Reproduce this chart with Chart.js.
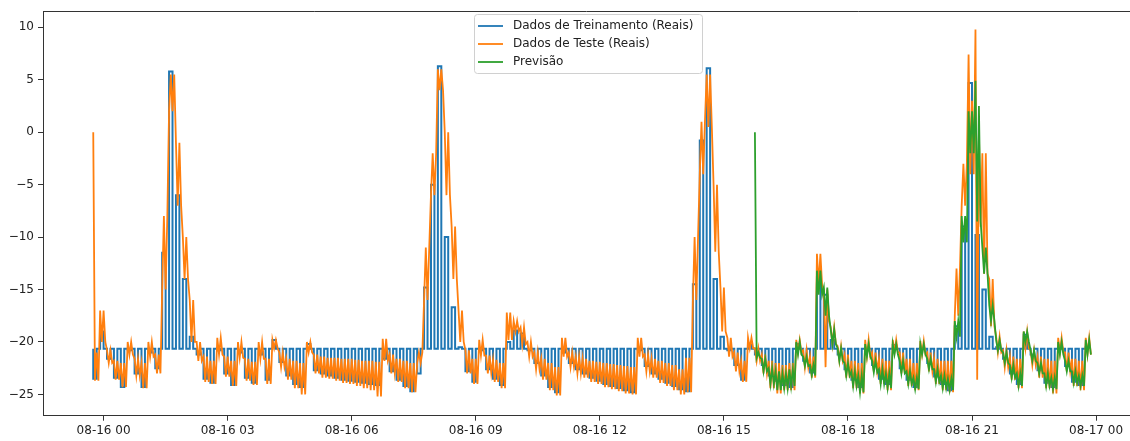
<!DOCTYPE html>
<html>
<head>
<meta charset="utf-8">
<script src="https://cdn.jsdelivr.net/npm/chart.js@4.4.1/dist/chart.umd.min.js"></script>
<style>
  html, body { margin: 0; padding: 0; background: #fff; overflow: hidden; }
  #chart { position: absolute; left: 0; top: 0; }
</style>
</head>
<body>
<canvas id="chart" width="1130" height="441"></canvas>
<script>
// time grid: hours relative to 08-16 00:00, one reading every 10 minutes
const startHour = -0.25;
const stepHours = 1 / 6;

// training data (blue) - the real values, the other half of its points sit on a fixed level
const trainBase = -20.65;
const trainValues = [
  -23.5, -19.0, -21.6, -23.4, -24.3, -20.8, -23.0, -24.3, -21.0, -22.5,
  -11.5, 5.8, -6.0, -14.0, -19.5, -21.2, -23.5, -23.9, -20.8, -23.0,
  -24.1, -21.0, -23.4, -23.9, -21.2, -23.6, -19.8, -21.9, -23.2, -24.0,
  -24.3, -20.2, -22.7, -23.0, -23.2, -23.4, -23.6, -23.7, -23.8, -23.9,
  -24.0, -24.1, -21.6, -22.8, -23.6, -24.2, -24.7, -23.0, -14.8, -5.0,
  6.3, -10.0, -16.7, -20.5, -22.8, -23.8, -20.8, -22.6, -23.5, -24.1,
  -20.0, -18.9, -19.2, -20.8, -22.0, -23.2, -24.3, -24.8, -21.0, -22.0,
  -22.6, -23.0, -23.4, -23.7, -24.0, -24.2, -24.4, -24.6, -24.8, -20.8,
  -22.3, -23.0, -23.5, -23.9, -24.2, -24.5, -24.7, -14.5, -0.8, 6.1,
  -14.0, -19.5, -20.8, -22.2, -23.6, -20.3, -21.2, -22.2, -23.2, -23.7,
  -24.1, -24.3, -20.2, -21.8, -22.9, -14.4, -15.5, -19.8, -21.2, -22.6,
  -23.6, -24.3, -20.8, -22.2, -23.5, -24.0, -20.3, -22.5, -23.6, -24.3,
  -20.6, -22.0, -23.3, -24.0, -24.6, -18.5, -9.0, 4.7, -9.8, -15.0,
  -19.5, -20.5, -21.6, -23.0, -24.0, -19.3, -21.2, -22.7, -23.9, -24.3,
  -20.5, -22.3, -23.8, -24.1, -20.5
];

// test data (orange) - upper and lower readings of each 10 minute slot
const testHigh = [
  -21.0, -17.0, -20.8, -21.8, -22.0, -20.0, -21.6, -22.0, -20.0, -21.2,
  -15.0, 2.0, -1.0, -10.0, -16.0, -20.0, -21.4, -21.8, -19.6, -21.4,
  -21.8, -20.0, -21.6, -21.9, -20.0, -21.6, -19.8, -21.0, -21.6, -21.8,
  -22.0, -20.0, -21.2, -21.4, -21.5, -21.5, -21.6, -21.6, -21.7, -21.8,
  -21.8, -21.9, -19.7, -21.2, -21.6, -21.8, -22.0, -22.0, -16.0, -6.0,
  6.0, 0.0, -9.0, -17.0, -20.8, -21.6, -19.8, -21.3, -21.7, -22.0,
  -17.2, -18.0, -18.6, -20.0, -21.0, -21.6, -22.0, -22.4, -19.6, -21.0,
  -21.4, -21.6, -21.8, -21.9, -22.0, -22.1, -22.2, -22.3, -22.4, -19.6,
  -21.2, -21.6, -21.8, -22.0, -22.2, -22.6, -21.5, -16.0, -4.0, 5.5,
  -5.0, -14.8, -19.6, -21.0, -21.8, -19.6, -20.6, -21.2, -21.8, -22.0,
  -22.2, -22.0, -19.8, -20.8, -21.4, -11.6, -15.0, -18.6, -20.4, -21.2,
  -21.8, -22.0, -19.8, -21.0, -21.6, -21.8, -19.8, -21.0, -21.6, -22.0,
  -19.9, -21.0, -21.6, -21.8, -21.8, -17.5, -7.0, 3.0, 0.0, -2.0,
  -14.0, -19.5, -20.8, -21.4, -21.6, -19.0, -20.8, -21.4, -21.6, -21.8,
  -19.6, -21.0, -21.6, -21.8, -19.6
];
const testLow = [
  -23.7, -20.0, -22.0, -23.6, -24.3, -21.2, -23.2, -24.4, -21.4, -23.0,
  -8.0, 5.5, -7.0, -14.0, -20.0, -21.8, -23.8, -24.0, -21.2, -23.3,
  -24.2, -21.5, -23.7, -24.1, -21.6, -24.0, -20.6, -22.4, -23.6, -24.4,
  -25.0, -21.0, -23.0, -23.4, -23.5, -23.7, -23.9, -24.0, -24.2, -24.4,
  -24.6, -25.2, -21.8, -23.0, -23.8, -24.4, -24.8, -21.0, -11.0, -2.0,
  4.0, -6.0, -14.0, -20.0, -23.0, -24.0, -21.3, -23.0, -23.8, -24.4,
  -19.8, -19.0, -20.2, -21.4, -22.6, -23.6, -24.6, -25.1, -21.4, -22.4,
  -23.0, -23.4, -23.8, -24.0, -24.3, -24.5, -24.7, -24.9, -25.0, -21.4,
  -22.8, -23.4, -23.9, -24.2, -24.6, -25.0, -24.8, -10.0, 1.0, 0.5,
  -11.4, -19.0, -21.4, -22.8, -23.8, -20.6, -21.8, -23.0, -24.4, -24.9,
  -24.6, -24.6, -21.0, -22.4, -23.4, -14.6, -18.0, -20.2, -21.8, -23.4,
  -24.4, -24.9, -21.4, -22.8, -24.0, -24.6, -21.0, -23.0, -24.2, -24.6,
  -21.2, -22.8, -24.0, -24.6, -24.8, -13.0, -3.0, -4.0, -9.0, -13.5,
  -18.5, -21.0, -22.4, -23.6, -24.4, -20.6, -22.2, -23.4, -24.4, -24.9,
  -21.0, -22.8, -24.2, -24.6, -21.2
];
// single isolated strokes (first stroke of the slot)
const testSpikeSlot = [0, 106, 127, 128];
const testSpikeHigh = [0.0, null, 7.4, 9.8];
const testSpikeLow = [null, -22.4, null, -23.6];

// prediction (green) - starts at slot 96 (about 15:45)
const predStartSlot = 96;
const predHigh = [
  -21.0, -21.6, -22.5, -22.8, -23.0, -22.6, -20.0, -21.4, -22.2, -13.2,
  -14.8, -18.8, -20.6, -22.0, -22.8, -23.2, -20.2, -21.8, -22.6, -23.0,
  -20.2, -21.8, -22.8, -23.4, -20.2, -21.6, -22.6, -23.2, -23.5, -18.0,
  -8.0, 2.0, 2.5, -11.0, -16.5, -19.8, -21.0, -22.2, -23.0, -19.0,
  -20.8, -22.0, -23.0, -23.4, -20.0, -21.8, -22.8, -23.2, -19.8
];
const predLow = [
  -21.5, -22.8, -24.0, -24.6, -24.4, -24.2, -21.2, -22.3, -23.2, -15.5,
  -17.5, -20.2, -21.8, -23.2, -24.2, -24.8, -21.4, -22.9, -24.0, -24.4,
  -21.2, -23.0, -24.0, -24.5, -21.2, -22.6, -23.8, -24.4, -24.6, -19.5,
  -10.5, -2.0, -8.5, -13.5, -18.0, -20.8, -22.0, -23.4, -24.2, -20.0,
  -21.8, -23.0, -24.2, -24.5, -21.2, -22.8, -23.9, -24.2, -21.2
];
const predSpikeSlot = [96, 128];
const predSpikeHigh = [0.0, 4.9];
const predSpikeLow = [null, null];

const xTickHours = [0, 3, 6, 9, 12, 15, 18, 21, 24];
const xTickLabels = ['08-16 00', '08-16 03', '08-16 06', '08-16 09', '08-16 12',
                     '08-16 15', '08-16 18', '08-16 21', '08-17 00'];
const yTickValues = [-25, -20, -15, -10, -5, 0, 5, 10];

const seriesNames = ['Dados de Treinamento (Reais)', 'Dados de Teste (Reais)', 'Previsão'];
const seriesColors = ['#1f77b4', '#ff7f0e', '#2ca02c'];

// build point lists for the library
const slotTime = i => startHour + i * stepHours;
const q = stepHours / 4;

const trainPoints = [];
trainValues.forEach((v, i) => {
    const t = slotTime(i);
    trainPoints.push({ x: t, y: trainBase }, { x: t, y: v },
                     { x: t + 2 * q, y: v }, { x: t + 2 * q, y: trainBase });
});

// each high/low pair is drawn as a zigzag across its slot;
// a spike entry replaces the first stroke of that slot
const zigzag = (highs, lows, firstSlot, spikeSlot, spikeHigh, spikeLow) => {
    const pts = [];
    highs.forEach((v, k) => {
        const slot = firstSlot + k;
        const t = slotTime(slot);
        const s = spikeSlot.indexOf(slot);
        const h1 = s >= 0 && spikeHigh[s] !== null ? spikeHigh[s] : v;
        const l1 = s >= 0 && spikeLow[s] !== null ? spikeLow[s] : lows[k];
        pts.push({ x: t, y: h1 }, { x: t + q, y: l1 },
                 { x: t + 2 * q, y: v }, { x: t + 3 * q, y: lows[k] });
    });
    return pts;
};
const testPoints = zigzag(testHigh, testLow, 0, testSpikeSlot, testSpikeHigh, testSpikeLow);
const predPoints = zigzag(predHigh, predLow, predStartSlot, predSpikeSlot, predSpikeHigh, predSpikeLow);

const FONT = 'DejaVu Sans';
const TEXT_COLOR = '#222';
const AXIS_COLOR = '#333';

// top spine (the right one falls outside the picture)
const framePlugin = {
    id: 'frame',
    afterDraw(chart) {
        const { ctx, chartArea: a } = chart;
        ctx.save();
        ctx.strokeStyle = AXIS_COLOR;
        ctx.lineWidth = 1;
        ctx.beginPath();
        ctx.moveTo(a.left, Math.round(a.top) + 0.5);
        ctx.lineTo(a.right, Math.round(a.top) + 0.5);
        ctx.stroke();
        ctx.restore();
    }
};

// legend box in the style of matplotlib
const legendPlugin = {
    id: 'mplLegend',
    afterDraw(chart) {
        const ctx = chart.ctx;
        const box = { x: 474, y: 14, w: 228, h: 59 };
        ctx.save();
        ctx.beginPath();
        ctx.roundRect(box.x + 0.5, box.y + 0.5, box.w, box.h, 3);
        ctx.fillStyle = 'rgba(255,255,255,0.8)';
        ctx.fill();
        ctx.strokeStyle = '#d0d0d0';
        ctx.lineWidth = 1;
        ctx.stroke();
        ctx.font = '12px "' + FONT + '"';
        ctx.textBaseline = 'middle';
        ctx.textAlign = 'left';
        seriesNames.forEach((name, i) => {
            const y = box.y + 12 + i * 18;
            ctx.beginPath();
            ctx.moveTo(box.x + 4, y);
            ctx.lineTo(box.x + 29, y);
            ctx.strokeStyle = seriesColors[i];
            ctx.lineWidth = 1.8;
            ctx.stroke();
            ctx.fillStyle = TEXT_COLOR;
            ctx.fillText(name, box.x + 39, y);
        });
        ctx.restore();
    }
};

const lineStyle = (color, width) => ({
    borderColor: color,
    backgroundColor: color,
    borderWidth: width,
    pointRadius: 0,
    pointHoverRadius: 0,
    tension: 0,
    fill: false
});

new Chart(document.getElementById('chart'), {
    type: 'line',
    data: {
        datasets: [
            { label: seriesNames[0], data: trainPoints, order: 3, ...lineStyle(seriesColors[0], 2) },
            { label: seriesNames[1], data: testPoints, order: 2, ...lineStyle(seriesColors[1], 1.8) },
            { label: seriesNames[2], data: predPoints, order: 1, ...lineStyle(seriesColors[2], 1.8) }
        ]
    },
    options: {
        responsive: false,
        animation: false,
        devicePixelRatio: 1,
        layout: { padding: { top: 8, right: 0, left: 0, bottom: 0 } },
        plugins: {
            legend: { display: false },
            tooltip: { enabled: false }
        },
        scales: {
            x: {
                type: 'linear',
                min: -1.465,
                max: 24.82,
                afterBuildTicks: axis => { axis.ticks = xTickHours.map(v => ({ value: v })); },
                afterFit: axis => { axis.height = 25.3; },
                border: { display: true, color: AXIS_COLOR, width: 1 },
                grid: { drawOnChartArea: false, drawTicks: true, tickLength: 5, tickColor: AXIS_COLOR },
                ticks: {
                    autoSkip: false,
                    maxRotation: 0,
                    padding: 3,
                    color: TEXT_COLOR,
                    font: { family: FONT, size: 12 },
                    callback: (value, index) => xTickLabels[index]
                }
            },
            y: {
                type: 'linear',
                min: -27.03,
                max: 11.54,
                afterBuildTicks: axis => { axis.ticks = yTickValues.map(v => ({ value: v })); },
                afterFit: axis => { axis.width = 43; },
                border: { display: true, color: AXIS_COLOR, width: 1 },
                grid: { drawOnChartArea: false, drawTicks: true, tickLength: 5, tickColor: AXIS_COLOR },
                ticks: {
                    padding: 4,
                    color: TEXT_COLOR,
                    font: { family: FONT, size: 12 },
                    callback: value => value < 0 ? '\u2212' + Math.abs(value) : String(value)
                }
            }
        }
    },
    plugins: [framePlugin, legendPlugin]
});
</script>
</body>
</html>
